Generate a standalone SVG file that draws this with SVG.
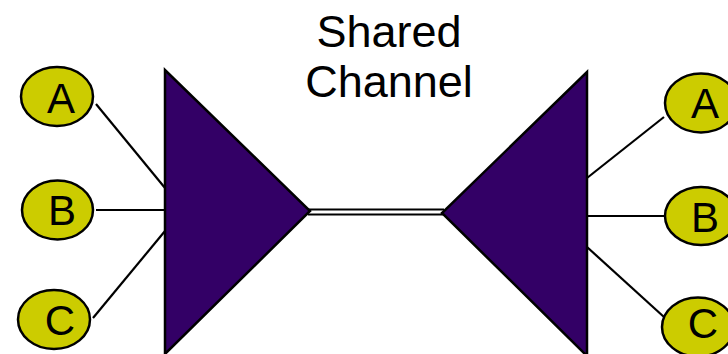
<svg xmlns="http://www.w3.org/2000/svg" width="728" height="354" viewBox="0 0 728 354">
<style>
.tri{fill:#330066;stroke:#000;stroke-width:2.5;stroke-linejoin:miter}
.node ellipse{fill:#CCCC00;stroke:#000;stroke-width:2.5}
.node text{font-family:"Liberation Sans",Arial,sans-serif;font-size:42px;fill:#000;text-anchor:middle}
.link{stroke:#000;stroke-width:2.2;fill:none}
.title{font-family:"Liberation Sans",Arial,sans-serif;font-size:45px;fill:#000;text-anchor:middle}
</style>
<rect width="728" height="354" fill="#fff"/>
<g id="title">
<text class="title" x="389" y="47">Shared</text>
<text class="title" x="389" y="97">Channel</text>
</g>
<g id="connectors">
<line class="link" x1="96" y1="104" x2="165" y2="188"/>
<line class="link" x1="96" y1="210" x2="165" y2="210"/>
<line class="link" x1="93" y1="318" x2="165" y2="231"/>
<line class="link" x1="587" y1="178" x2="664" y2="117"/>
<line class="link" x1="587" y1="216" x2="665" y2="216"/>
<line class="link" x1="587" y1="247" x2="664" y2="317"/>
<line x1="308" y1="212" x2="444" y2="212" stroke="#000" stroke-width="7"/>
<line x1="308" y1="212" x2="444" y2="212" stroke="#fff" stroke-width="3"/>
</g>
<g id="mux-left"><polygon class="tri" points="165,70 165,354 310,211"/></g>
<g id="mux-right"><polygon class="tri" points="587,72 587,356 442,213"/></g>
<g id="left-A" class="node"><ellipse cx="57" cy="96.5" rx="36" ry="29.5"/><text x="61" y="113">A</text></g>
<g id="left-B" class="node"><ellipse cx="57.5" cy="210" rx="35.5" ry="29.5"/><text x="62" y="225">B</text></g>
<g id="left-C" class="node"><ellipse cx="54" cy="319.5" rx="36" ry="29.5"/><text x="60" y="335">C</text></g>
<g id="right-A" class="node"><ellipse cx="701" cy="103" rx="36" ry="29.5"/><text x="705" y="118">A</text></g>
<g id="right-B" class="node"><ellipse cx="701" cy="216" rx="36" ry="29"/><text x="705" y="232">B</text></g>
<g id="right-C" class="node"><ellipse cx="698" cy="327" rx="36" ry="29.5"/><text x="703" y="338">C</text></g>
</svg>
